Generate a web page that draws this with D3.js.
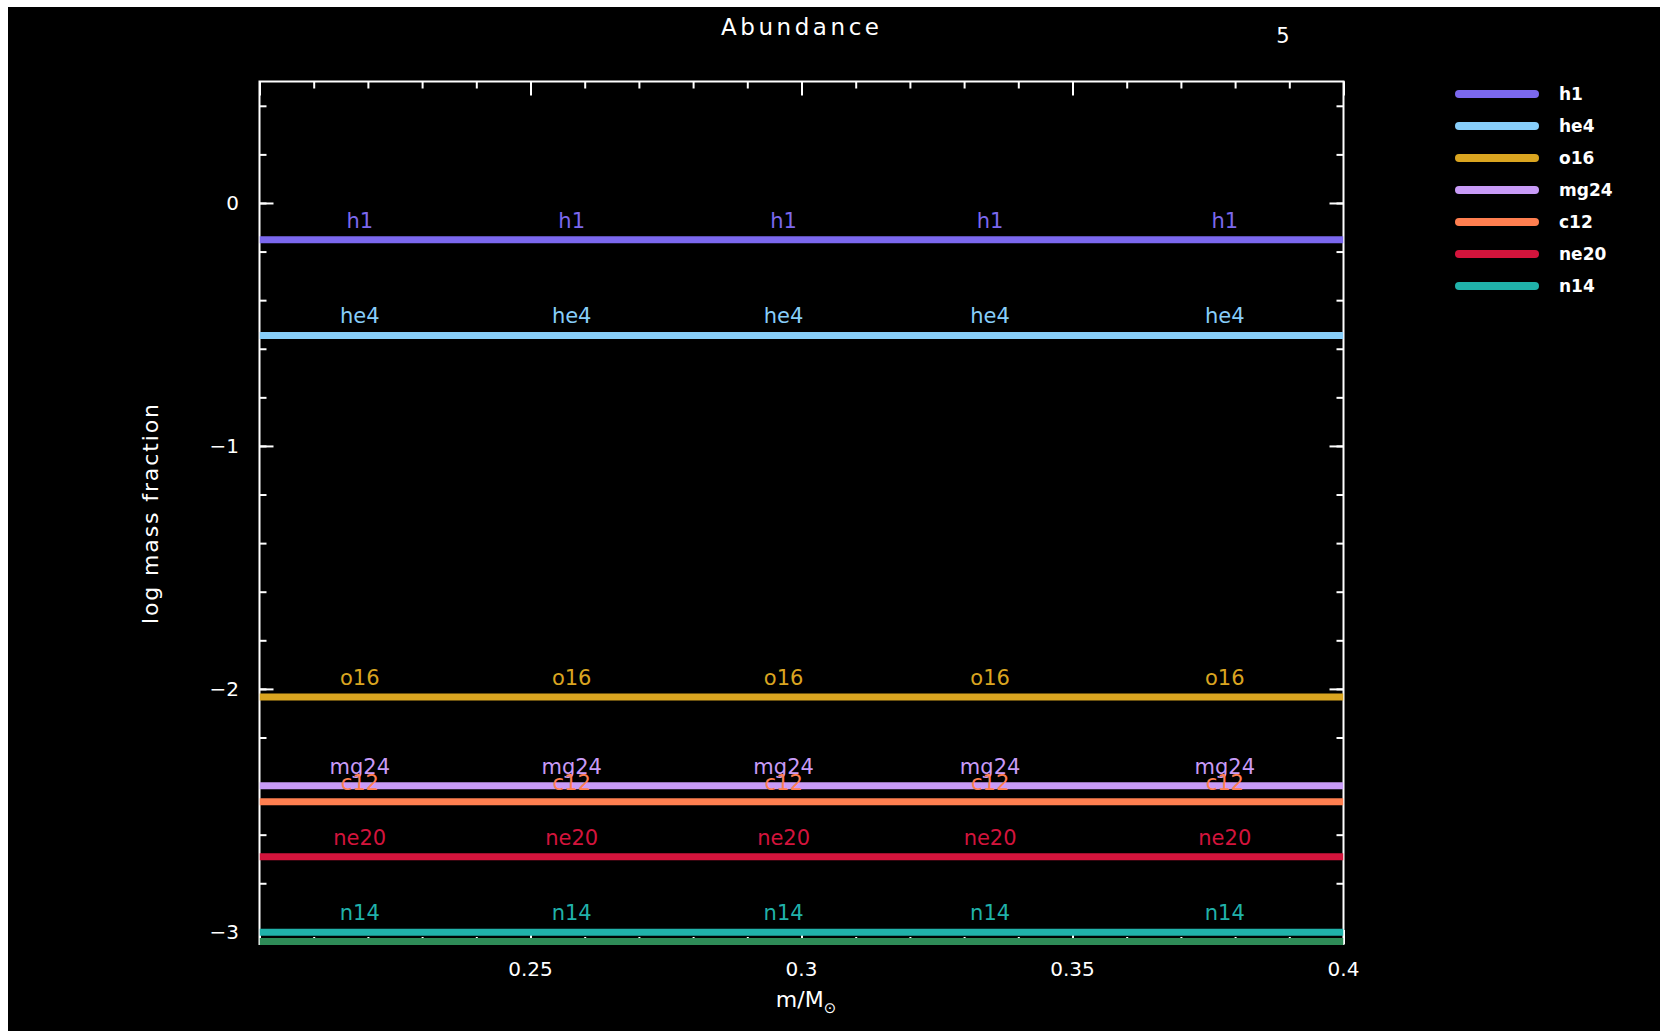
<!DOCTYPE html>
<html>
<head>
<meta charset="utf-8">
<script src="https://cdn.jsdelivr.net/npm/d3@7"></script>
<style>
html, body { margin: 0; padding: 0; background: #ffffff; }
svg { display: block; }
text { font-family: "DejaVu Sans", sans-serif; }
</style>
</head>
<body>
<svg id="chart" width="1660" height="1031"></svg>
<script>
// ---- data ----
const massPoints = [0.2, 0.25, 0.3, 0.35, 0.4];
const seriesNames = ["h1", "he4", "o16", "mg24", "c12", "ne20", "n14"];
const seriesColors = ["#7B68EE", "#87CEFA", "#DAA520", "#C89BF7", "#FF7F50", "#D3143C", "#20B2AA"];
const h1 = [-0.151, -0.151, -0.151, -0.151, -0.151];
const he4 = [-0.545, -0.545, -0.545, -0.545, -0.545];
const o16 = [-2.033, -2.033, -2.033, -2.033, -2.033];
const mg24 = [-2.399, -2.399, -2.399, -2.399, -2.399];
const c12 = [-2.465, -2.465, -2.465, -2.465, -2.465];
const ne20 = [-2.691, -2.691, -2.691, -2.691, -2.691];
const n14 = [-3.002, -3.002, -3.002, -3.002, -3.002];
const unlabeled = [-3.04, -3.04, -3.04, -3.04, -3.04];
const unlabeledColor = "#2E8B57";
const labelPositions = [0.2185, 0.2576, 0.2967, 0.3348, 0.3781];
const xTickLabels = [0.25, 0.3, 0.35, 0.4];
const yTickLabels = [0, -1, -2, -3];
const xDomain = [0.2, 0.4];
const yDomain = [-3.05, 0.5];
const titleText = "Abundance";
const frameNumber = "5";

const seriesValues = [h1, he4, o16, mg24, c12, ne20, n14];

// ---- layout ----
const W = 1660, H = 1031;
const plot = { left: 259.5, right: 1343.5, top: 81.5, bottom: 944 };

const svg = d3.select("#chart");
svg.append("rect").attr("x", 8).attr("y", 7).attr("width", W - 8).attr("height", H - 7).attr("fill", "#000");

const x = d3.scaleLinear().domain(xDomain).range([plot.left, plot.right]);
const y = d3.scaleLinear().domain(yDomain).range([plot.bottom, plot.top]);

const pw = plot.right - plot.left, ph = plot.bottom - plot.top;

// axes (ticks inward)
const xMinor = d3.range(0.2, 0.4001, 0.01).map(v => +v.toFixed(3));
const xMajor = d3.range(0.2, 0.4001, 0.05).map(v => +v.toFixed(3));
const yMinor = d3.range(-3.0, 0.5001, 0.2).map(v => +v.toFixed(3));
const yMajor = [0, -1, -2, -3];

function axisGroup(axis, tx, ty) {
  const g = svg.append("g").attr("transform", `translate(${tx},${ty})`).call(axis);
  g.selectAll("path").remove();
  g.selectAll("line").attr("stroke", "#fff").attr("stroke-width", 2);
  g.selectAll("text").remove();
  return g;
}
// bottom (ticks up)
axisGroup(d3.axisBottom(x).tickValues(xMinor).tickSize(-7), 0, plot.bottom);
axisGroup(d3.axisBottom(x).tickValues(xMajor).tickSize(-14), 0, plot.bottom);
// top (ticks down)
axisGroup(d3.axisTop(x).tickValues(xMinor).tickSize(-7), 0, plot.top);
axisGroup(d3.axisTop(x).tickValues(xMajor).tickSize(-14), 0, plot.top);
// left (ticks right)
axisGroup(d3.axisLeft(y).tickValues(yMinor).tickSize(-7), plot.left, 0);
axisGroup(d3.axisLeft(y).tickValues(yMajor).tickSize(-14), plot.left, 0);
// right (ticks left)
axisGroup(d3.axisRight(y).tickValues(yMinor).tickSize(-7), plot.right, 0);
axisGroup(d3.axisRight(y).tickValues(yMajor).tickSize(-14), plot.right, 0);

// frame
svg.append("rect").attr("x", plot.left).attr("y", plot.top).attr("width", pw).attr("height", ph)
  .attr("fill", "none").attr("stroke", "#fff").attr("stroke-width", 2);

// tick labels
svg.append("g").selectAll("text").data(xTickLabels).join("text")
  .attr("x", d => x(d)).attr("y", 976)
  .attr("text-anchor", "middle").attr("fill", "#fff").attr("font-size", 20)
  .text(d => d3.format("~g")(d));
svg.append("g").selectAll("text").data(yTickLabels).join("text")
  .attr("x", 239).attr("y", d => y(d) + 7)
  .attr("text-anchor", "end").attr("fill", "#fff").attr("font-size", 20)
  .text(d => d === 0 ? "0" : "\u2212" + Math.abs(d));

// lines
const line = d3.line().x((d, i) => x(massPoints[i])).y(d => y(d));
const clipId = "plotclip";
svg.append("clipPath").attr("id", clipId).append("rect")
  .attr("x", plot.left).attr("y", plot.top - 5).attr("width", pw).attr("height", ph + 10);

const lines = svg.append("g").attr("clip-path", `url(#${clipId})`);
lines.append("path").datum(unlabeled).attr("d", line).attr("fill", "none")
  .attr("stroke", unlabeledColor).attr("stroke-width", 7);
seriesValues.forEach((vals, i) => {
  lines.append("path").datum(vals).attr("d", line).attr("fill", "none")
    .attr("stroke", seriesColors[i]).attr("stroke-width", 7);
});

// in-plot labels
seriesValues.forEach((vals, i) => {
  svg.append("g").selectAll("text").data(labelPositions).join("text")
    .attr("x", d => x(d)).attr("y", y(vals[0]) - 12)
    .attr("text-anchor", "middle").attr("fill", seriesColors[i]).attr("font-size", 21)
    .text(seriesNames[i]);
});

// title, frame number
svg.append("text").attr("x", 800).attr("y", 35).attr("text-anchor", "middle")
  .attr("fill", "#fff").attr("font-size", 23).attr("textLength", 158).text(titleText);
svg.append("text").attr("x", 1283).attr("y", 43).attr("text-anchor", "middle")
  .attr("fill", "#fff").attr("font-size", 21).text(frameNumber);

// axis titles
const xt = svg.append("text").attr("x", 806).attr("y", 1007).attr("text-anchor", "middle")
  .attr("fill", "#fff").attr("font-size", 22);
xt.append("tspan").text("m/M");
xt.append("tspan").attr("font-size", 15).attr("dy", 6).text("\u2299");
svg.append("text").attr("transform", "translate(158,514) rotate(-90)").attr("text-anchor", "middle")
  .attr("fill", "#fff").attr("font-size", 22).attr("textLength", 220).text("log mass fraction");

// legend
const leg = svg.append("g");
seriesNames.forEach((name, i) => {
  const ly = 94 + i * 32;
  leg.append("line").attr("x1", 1459).attr("x2", 1535).attr("y1", ly).attr("y2", ly)
    .attr("stroke", seriesColors[i]).attr("stroke-width", 8).attr("stroke-linecap", "round");
  leg.append("text").attr("x", 1559).attr("y", ly + 6).attr("fill", "#fff")
    .attr("font-size", 17).attr("font-weight", "bold").text(name);
});
</script>
</body>
</html>
